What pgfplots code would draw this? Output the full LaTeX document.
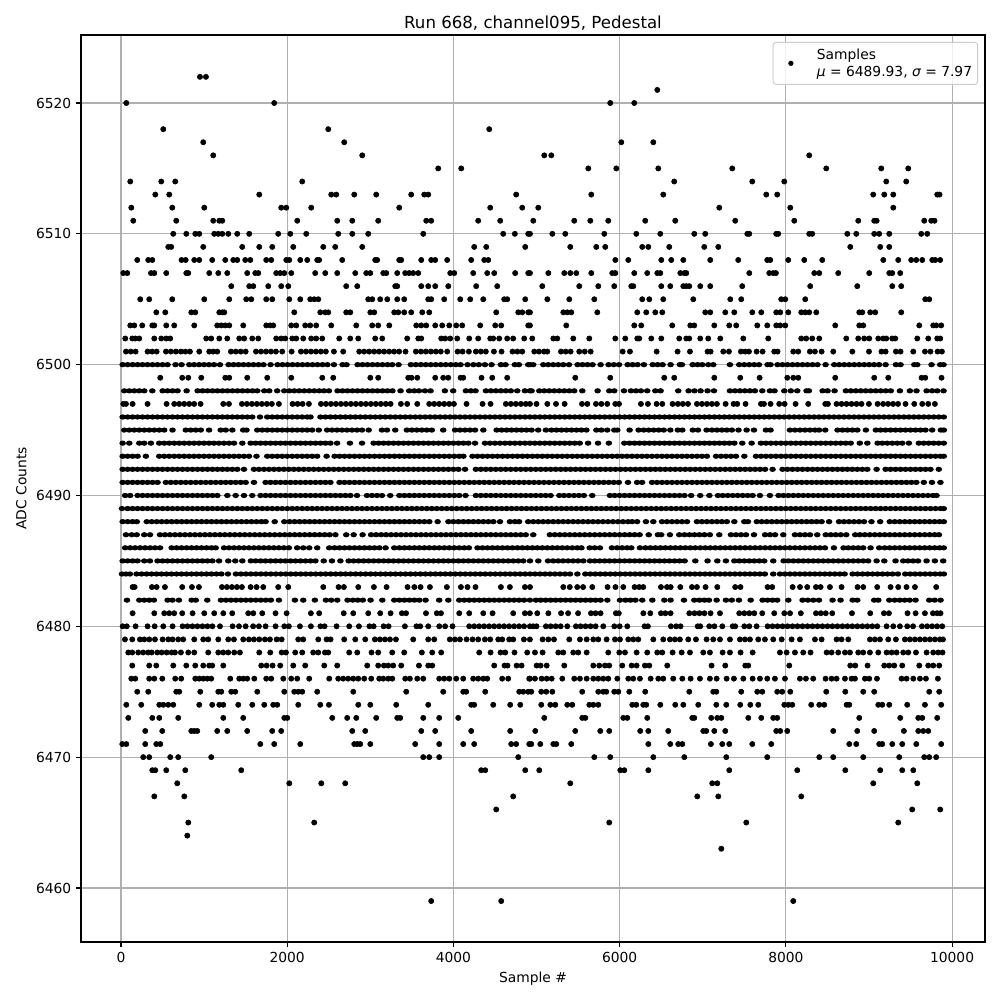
\documentclass[border=0pt]{standalone}
\usepackage{pgfplots}
\pgfplotsset{compat=1.18}
\usepackage{fontspec}
\setmainfont{DejaVu Sans}
\pgfdeclareplotmark{rowdot}{\pgfpathellipse{\pgfpointorigin}{\pgfqpoint{2.4pt}{0pt}}{\pgfqpoint{0pt}{1.9pt}}\pgfusepathqfill}
\newcommand\R[2]{\addplot[only marks,mark=*,mark size=1.9pt,color=black,mark options={draw=none,fill=black},forget plot] table[header=false,x index=0,y expr=#1,row sep=\\]{#2};}
\newcommand\D[2]{\addplot[only marks,mark=rowdot,color=black,forget plot] table[header=false,x index=0,y expr=#1,row sep=\\]{#2};}
\begin{document}
\begin{tikzpicture}
\useasboundingbox (0,0) rectangle (10in,10in);
\begin{axis}[at={(0.81in,0.58in)},anchor=south west,scale only axis,width=9.04in,height=9.07in,
xmin=-481,xmax=10396,ymin=6455.87,ymax=6525.2,
xtick={0,2000,4000,6000,8000,10000},ytick={6460,6470,6480,6490,6500,6510,6520},
scaled ticks=false,
/pgf/number format/assume math mode=true,/pgf/number format/1000 sep={},
xtick pos=lower,ytick pos=left,tick align=outside,major tick length=3.5bp,
every tick/.style={black,line width=0.8bp},axis line style={line width=0.8bp},
grid=major,grid style={color=black!31,line width=0.8bp},
title={\fontsize{12}{14}\selectfont Run 668, channel095, Pedestal},
title style={at={(0.5,1)},anchor=south,yshift=-6.4pt},
xlabel={Sample \#},ylabel={ADC Counts},
legend cell align=left,
legend style={at={(1,1)},anchor=north east,xshift=-5pt,yshift=-5pt,draw=black!20,line width=0.7pt,rounded corners=2pt,fill=white,fill opacity=0.8,text opacity=1,inner sep=2pt},
]
\addlegendimage{legend image code/.code={\path[draw=none,fill=none] (0,-1pt) rectangle (27.6pt,1pt);\fill[black,fill opacity=1,draw=none] (10.8pt,0) circle (1.9pt);}}
\addlegendentry{\begin{tabular}{@{}l@{}}Samples\\{\itshape μ} = 6489.93, {\itshape σ} = 7.97\\[-4pt]\rule{0pt}{13pt}\end{tabular}}
\R{6522}{950\\1022\\}
\R{6521}{6453\\}
\R{6520}{64\\1844\\5887\\6176\\}
\R{6518}{509\\2494\\4431\\}
\R{6517}{990\\2686\\6020\\6405\\}
\R{6516}{1110\\2903\\5093\\5178\\8281\\}
\R{6515}{3817\\4094\\5623\\5960\\6465\\7355\\8486\\9148\\9472\\}
\R{6514}{112\\485\\653\\2181\\6657\\7596\\7981\\9208\\9448\\}
\R{6513}{413\\581\\1664\\2530\\2590\\2807\\3071\\3492\\3649\\3697\\4755\\5659\\6525\\7764\\7896\\9051\\9184\\9292\\9821\\9849\\}
\R{6512}{124\\617\\1002\\1928\\1989\\2289\\3348\\4443\\4828\\5021\\7199\\8053\\9292\\}
\R{6511}{148\\665\\1110\\1183\\1219\\2121\\2602\\2783\\3095\\3673\\3733\\4298\\4563\\4961\\5454\\5647\\5863\\6308\\6669\\7391\\8101\\8871\\9063\\9092\\9665\\9749\\9789\\}
\R{6510}{629\\786\\894\\942\\1122\\1171\\1219\\1291\\1399\\1543\\1892\\2037\\2229\\2614\\2783\\2975\\3637\\4599\\4739\\4900\\4921\\5190\\5346\\5815\\6200\\6489\\6898\\7030\\7536\\7560\\7884\\7908\\8281\\8317\\8739\\8847\\9063\\9123\\9244\\9629\\9701\\}
\R{6509}{569\\605\\990\\1459\\1664\\1820\\2073\\2434\\2578\\2903\\4250\\4395\\4864\\5406\\5719\\5827\\6272\\6345\\6597\\7018\\7187\\8775\\9135\\9244\\}
\R{6508}{196\\328\\377\\729\\778\\882\\942\\1098\\1255\\1351\\1399\\1495\\1556\\1748\\1808\\1989\\2025\\2157\\2241\\2361\\2385\\2662\\3059\\3083\\3348\\3372\\3613\\3733\\3781\\3925\\4214\\4371\\4419\\5948\\6104\\6501\\6621\\6766\\7090\\7427\\7776\\7812\\8029\\8221\\8438\\9172\\9352\\9508\\9569\\9641\\9761\\9797\\9857\\}
\R{6507}{28\\76\\361\\401\\545\\786\\810\\1062\\1171\\1279\\1519\\1616\\1652\\1868\\1916\\1965\\2049\\2337\\2458\\2602\\2819\\2951\\3000\\3156\\3192\\3324\\3420\\3468\\3516\\3577\\3962\\4010\\4238\\4407\\4491\\4743\\4900\\4921\\5142\\5334\\5406\\5478\\5659\\5911\\5948\\6176\\6332\\6453\\6489\\6730\\6778\\6802\\7560\\7800\\7848\\7880\\8342\\8402\\8630\\9003\\9244\\9280\\9376\\}
\R{6506}{1327\\1543\\1592\\1772\\1928\\2013\\2710\\2843\\3300\\3324\\3613\\3697\\3781\\3938\\4274\\4527\\5069\\5514\\5743\\5935\\6140\\6164\\6501\\6609\\6766\\6802\\6838\\6970\\7090\\7475\\8293\\8859\\9280\\9388\\}
\R{6505}{232\\340\\617\\1002\\1303\\1507\\1568\\1748\\1820\\2025\\2157\\2277\\2325\\2374\\2975\\3023\\3119\\3204\\3324\\3408\\3697\\3733\\3889\\4082\\4202\\4359\\4611\\4647\\4864\\5130\\5394\\5695\\6272\\6357\\6525\\6886\\7331\\7463\\7944\\7993\\8233\\9677\\9725\\}
\R{6504}{425\\533\\846\\894\\1183\\1219\\1243\\2085\\2398\\2458\\2494\\2710\\2759\\3000\\3047\\3288\\3336\\3408\\3492\\3625\\3709\\4515\\4780\\4828\\4900\\4921\\5322\\5370\\5418\\5731\\6212\\6320\\6429\\6513\\7030\\7090\\7271\\7379\\7596\\7704\\7884\\7932\\8029\\8185\\8233\\8281\\8366\\8883\\8919\\9015\\9075\\9388\\}
\R{6503}{112\\160\\256\\377\\401\\545\\641\\882\\1158\\1207\\1255\\1303\\1471\\1748\\1796\\1832\\2049\\2109\\2217\\2277\\2349\\2530\\2831\\3023\\3095\\3228\\3553\\3613\\3673\\3781\\3865\\3950\\4034\\4106\\4322\\4503\\4575\\4900\\4921\\5358\\6176\\6260\\6633\\6850\\6898\\7139\\7319\\7403\\7656\\7776\\7884\\7932\\7993\\8594\\8883\\8931\\9605\\9773\\9809\\9869\\}
\R{6502}{52\\136\\172\\220\\401\\485\\545\\593\\1026\\1086\\1183\\1279\\1423\\1483\\1580\\1652\\1868\\1928\\1977\\2061\\2109\\2193\\2289\\2349\\2422\\2626\\2759\\2855\\3059\\3144\\3444\\3577\\3613\\3853\\3901\\3962\\4046\\4190\\4298\\4443\\4479\\4551\\4647\\4719\\4852\\4949\\5202\\5250\\5442\\5635\\5948\\6068\\6212\\6236\\6381\\6501\\6717\\6802\\6838\\6970\\7066\\7211\\7488\\7788\\8185\\8245\\8317\\8402\\8727\\8871\\8943\\9003\\9112\\9172\\9208\\9280\\9316\\9581\\9713\\9821\\9857\\}
\R{6501}{60\\118\\176\\320\\375\\429\\541\\600\\660\\720\\775\\830\\942\\1062\\1110\\1158\\1323\\1380\\1440\\1500\\1624\\1684\\1744\\1804\\1864\\1940\\2053\\2165\\2225\\2285\\2345\\2405\\2465\\2562\\2674\\2867\\2927\\2987\\3047\\3107\\3167\\3227\\3287\\3347\\3424\\3548\\3608\\3668\\3728\\3788\\3848\\3925\\4050\\4110\\4186\\4270\\4330\\4390\\4487\\4579\\4711\\4770\\4828\\4973\\5030\\5090\\5130\\5294\\5350\\5410\\5514\\5580\\5651\\6036\\6124\\6445\\6697\\6846\\7058\\7094\\7247\\7315\\7459\\7510\\7556\\7648\\7720\\7860\\7900\\8089\\8149\\8289\\8349\\8430\\8570\\8800\\9000\\9150\\9200\\9324\\9380\\9533\\9673\\9740\\9825\\9877\\}
\D{6500}{20\\80\\140\\200\\260\\320\\380\\440\\500\\560\\657\\729\\822\\880\\940\\1000\\1060\\1120\\1191\\1295\\1355\\1415\\1475\\1535\\1595\\1655\\1715\\1800\\1884\\1944\\2004\\2064\\2124\\2184\\2244\\2304\\2364\\2424\\2484\\2562\\2666\\2714\\2847\\2907\\2967\\3027\\3087\\3147\\3207\\3264\\3340\\3488\\3548\\3608\\3668\\3728\\3788\\3848\\3908\\3968\\4028\\4086\\4170\\4240\\4306\\4379\\4459\\4571\\4627\\4739\\4788\\4900\\4921\\4960\\5081\\5141\\5201\\5261\\5321\\5390\\5494\\5554\\5614\\5674\\5771\\5867\\5930\\5992\\6096\\6156\\6216\\6292\\6397\\6457\\6517\\6613\\6725\\6750\\6878\\6938\\6994\\7066\\7127\\7327\\7439\\7499\\7559\\7619\\7676\\7780\\7816\\7900\\7960\\8020\\8080\\8140\\8200\\8260\\8320\\8380\\8478\\8582\\8642\\8702\\8762\\8822\\8882\\8942\\9002\\9062\\9122\\9200\\9324\\9380\\9545\\9581\\9753\\9857\\9897\\}
\R{6499}{473\\737\\810\\966\\1255\\1303\\1519\\1760\\2049\\2422\\2554\\3000\\3095\\3456\\3496\\3565\\3781\\3877\\3937\\4086\\4118\\4338\\4467\\4647\\5466\\5887\\6537\\6657\\7139\\7451\\7684\\8017\\8089\\8149\\8594\\9063\\9232\\9633\\9677\\9873\\}
\D{6498}{40\\100\\160\\220\\280\\377\\501\\561\\621\\681\\790\\922\\982\\1042\\1102\\1162\\1222\\1282\\1342\\1402\\1462\\1522\\1582\\1640\\1724\\1784\\1880\\1965\\2025\\2085\\2145\\2205\\2265\\2325\\2385\\2442\\2502\\2606\\2666\\2726\\2786\\2846\\2906\\2966\\3026\\3086\\3146\\3206\\3266\\3364\\3468\\3528\\3585\\3657\\3725\\3897\\3997\\4150\\4210\\4266\\4391\\4451\\4511\\4571\\4631\\4691\\4768\\4860\\4920\\4940\\5033\\5093\\5153\\5213\\5273\\5333\\5393\\5453\\5551\\5735\\5875\\5935\\6052\\6136\\6196\\6256\\6332\\6429\\6493\\6705\\6830\\6900\\6974\\7058\\7135\\7327\\7387\\7447\\7507\\7567\\7627\\7716\\7808\\7864\\7981\\8060\\8137\\8249\\8277\\8442\\8502\\8586\\8722\\8782\\8842\\8902\\8962\\9022\\9082\\9142\\9202\\9262\\9372\\9492\\9572\\9693\\9760\\9821\\9897\\}
\R{6497}{28\\60\\140\\320\\549\\641\\701\\761\\821\\881\\958\\1231\\1299\\1455\\1515\\1575\\1635\\1695\\1755\\1815\\1900\\2065\\2125\\2185\\2261\\2406\\2466\\2526\\2586\\2646\\2706\\2766\\2826\\2886\\2946\\3006\\3066\\3126\\3186\\3244\\3368\\3444\\3565\\3709\\3769\\3829\\3889\\3949\\4006\\4158\\4351\\4447\\4631\\4691\\4751\\4811\\4871\\4921\\5000\\5130\\5234\\5338\\5547\\5611\\5715\\5780\\5851\\5948\\5992\\6256\\6340\\6445\\6513\\6637\\6700\\6760\\6822\\6930\\6990\\7050\\7110\\7170\\7275\\7371\\7415\\7515\\7700\\7736\\7816\\7920\\7985\\8117\\8269\\8474\\8506\\8610\\8670\\8730\\8790\\8850\\8910\\8999\\9104\\9170\\9230\\9290\\9350\\9440\\9545\\9641\\9713\\9793\\}
\D{6496}{20\\80\\140\\200\\260\\320\\380\\440\\500\\560\\620\\680\\740\\800\\860\\920\\980\\1040\\1100\\1160\\1220\\1280\\1340\\1400\\1460\\1520\\1580\\1672\\1760\\1820\\1880\\1940\\2000\\2060\\2120\\2180\\2240\\2280\\2400\\2460\\2520\\2580\\2640\\2700\\2760\\2820\\2880\\2940\\3000\\3060\\3120\\3180\\3240\\3300\\3360\\3420\\3480\\3540\\3600\\3660\\3720\\3780\\3840\\3900\\3960\\4020\\4080\\4140\\4200\\4260\\4320\\4380\\4440\\4500\\4560\\4620\\4680\\4740\\4800\\4860\\4920\\4980\\5040\\5100\\5160\\5220\\5280\\5340\\5400\\5460\\5520\\5580\\5640\\5700\\5760\\5820\\5880\\5940\\6000\\6060\\6120\\6180\\6240\\6300\\6360\\6420\\6480\\6540\\6600\\6660\\6720\\6780\\6840\\6900\\6960\\7020\\7080\\7140\\7200\\7260\\7320\\7380\\7440\\7500\\7560\\7620\\7680\\7740\\7800\\7860\\7920\\7980\\8040\\8100\\8160\\8220\\8280\\8340\\8400\\8460\\8520\\8580\\8640\\8700\\8760\\8820\\8880\\8940\\9000\\9060\\9120\\9180\\9240\\9300\\9360\\9420\\9480\\9540\\9600\\9660\\9720\\9780\\9840\\9900\\}
\D{6495}{40\\100\\160\\220\\280\\340\\400\\460\\520\\620\\780\\840\\900\\960\\1060\\1200\\1260\\1340\\1470\\1510\\1640\\1700\\1760\\1820\\1880\\1940\\2000\\2060\\2120\\2180\\2240\\2300\\2380\\2480\\2540\\2600\\2660\\2720\\2780\\2840\\2900\\2980\\3140\\3200\\3300\\3440\\3500\\3560\\3620\\3680\\3740\\3877\\4020\\4080\\4140\\4200\\4260\\4360\\4520\\4580\\4640\\4700\\4760\\4820\\4880\\4940\\5020\\5113\\5180\\5240\\5300\\5360\\5420\\5480\\5540\\5600\\5720\\5780\\5850\\5936\\5972\\6120\\6228\\6290\\6350\\6410\\6470\\6530\\6610\\6700\\6754\\6880\\6942\\7046\\7110\\7170\\7230\\7290\\7350\\7430\\7528\\7616\\7760\\7816\\8049\\8110\\8170\\8230\\8290\\8350\\8400\\8474\\8622\\8680\\8740\\8800\\8860\\8963\\9083\\9140\\9200\\9260\\9320\\9380\\9440\\9500\\9560\\9620\\9680\\9760\\9865\\9901\\}
\D{6494}{20\\100\\220\\280\\360\\460\\520\\580\\640\\700\\760\\820\\880\\940\\1000\\1060\\1120\\1180\\1240\\1300\\1360\\1460\\1560\\1620\\1680\\1740\\1800\\1860\\1920\\1980\\2040\\2100\\2160\\2220\\2280\\2340\\2400\\2460\\2520\\2600\\2755\\2900\\3040\\3100\\3160\\3220\\3280\\3340\\3400\\3460\\3520\\3580\\3640\\3700\\3760\\3820\\3880\\3940\\4000\\4060\\4120\\4180\\4260\\4380\\4440\\4500\\4560\\4620\\4680\\4740\\4800\\4860\\4920\\4980\\5040\\5100\\5160\\5220\\5280\\5340\\5400\\5460\\5520\\5620\\5740\\5870\\6056\\6120\\6180\\6240\\6300\\6360\\6420\\6480\\6540\\6600\\6660\\6720\\6780\\6840\\6900\\6960\\7020\\7080\\7140\\7200\\7260\\7320\\7380\\7475\\7588\\7700\\7760\\7820\\7880\\7940\\8000\\8060\\8120\\8180\\8240\\8300\\8360\\8420\\8480\\8540\\8600\\8660\\8720\\8780\\8890\\8980\\9104\\9160\\9220\\9280\\9340\\9400\\9480\\9600\\9660\\9720\\9780\\9840\\9900\\}
\D{6493}{20\\80\\140\\200\\300\\460\\520\\580\\640\\700\\760\\820\\880\\940\\1000\\1060\\1120\\1180\\1240\\1300\\1360\\1420\\1480\\1540\\1630\\1760\\1820\\1880\\1940\\2000\\2060\\2120\\2180\\2240\\2300\\2360\\2474\\2570\\2630\\2690\\2750\\2810\\2870\\2930\\2990\\3050\\3110\\3170\\3230\\3290\\3350\\3410\\3470\\3530\\3590\\3650\\3710\\3770\\3830\\3890\\3950\\4010\\4070\\4120\\4230\\4290\\4350\\4410\\4470\\4530\\4590\\4650\\4710\\4770\\4830\\4890\\4950\\5010\\5070\\5130\\5190\\5250\\5310\\5370\\5430\\5490\\5550\\5610\\5670\\5730\\5790\\5850\\5910\\5970\\6030\\6090\\6150\\6210\\6270\\6330\\6390\\6450\\6510\\6570\\6630\\6690\\6750\\6810\\6870\\6930\\6990\\7050\\7160\\7220\\7280\\7340\\7400\\7500\\7640\\7700\\7760\\7820\\7880\\7940\\8000\\8060\\8120\\8180\\8240\\8300\\8360\\8420\\8480\\8540\\8600\\8660\\8720\\8780\\8840\\8900\\8960\\9020\\9080\\9140\\9200\\9260\\9320\\9380\\9440\\9500\\9560\\9620\\9680\\9740\\9800\\9860\\9900\\}
\D{6492}{20\\80\\140\\200\\260\\320\\380\\440\\500\\560\\620\\680\\740\\800\\860\\920\\980\\1040\\1100\\1160\\1220\\1280\\1340\\1400\\1480\\1600\\1660\\1720\\1780\\1840\\1900\\1960\\2020\\2080\\2140\\2200\\2260\\2320\\2380\\2440\\2500\\2560\\2620\\2680\\2740\\2800\\2860\\2920\\2980\\3040\\3100\\3160\\3220\\3280\\3340\\3400\\3460\\3520\\3580\\3640\\3700\\3760\\3820\\3880\\3940\\4000\\4060\\4140\\4270\\4330\\4390\\4450\\4510\\4570\\4630\\4690\\4750\\4810\\4870\\4930\\4990\\5050\\5110\\5170\\5230\\5290\\5350\\5410\\5470\\5530\\5590\\5650\\5710\\5770\\5830\\5890\\5950\\6010\\6070\\6130\\6190\\6250\\6310\\6370\\6430\\6490\\6550\\6610\\6670\\6730\\6790\\6850\\6910\\6970\\7030\\7090\\7150\\7210\\7270\\7330\\7390\\7450\\7510\\7570\\7630\\7690\\7750\\7840\\7960\\8020\\8080\\8140\\8200\\8260\\8320\\8380\\8440\\8500\\8560\\8620\\8680\\8740\\8800\\8860\\8920\\8980\\9092\\9200\\9260\\9320\\9380\\9440\\9500\\9560\\9620\\9680\\9740\\9840\\}
\D{6491}{20\\80\\140\\200\\260\\320\\380\\440\\540\\600\\660\\720\\780\\840\\900\\960\\1020\\1080\\1140\\1200\\1260\\1320\\1380\\1440\\1500\\1600\\1740\\1800\\1860\\1920\\1980\\2040\\2100\\2160\\2220\\2280\\2340\\2400\\2460\\2520\\2630\\2690\\2750\\2810\\2870\\2930\\2990\\3050\\3110\\3170\\3230\\3290\\3350\\3410\\3470\\3530\\3590\\3650\\3710\\3770\\3830\\3890\\3950\\4010\\4070\\4130\\4190\\4250\\4310\\4370\\4430\\4490\\4550\\4610\\4670\\4730\\4790\\4850\\4910\\4970\\5030\\5090\\5150\\5210\\5270\\5330\\5390\\5450\\5510\\5570\\5630\\5690\\5750\\5810\\5870\\5930\\5990\\6100\\6210\\6270\\6390\\6450\\6510\\6570\\6630\\6690\\6750\\6810\\6870\\6930\\6990\\7050\\7110\\7170\\7230\\7290\\7350\\7410\\7470\\7530\\7590\\7650\\7710\\7770\\7830\\7890\\7950\\8010\\8070\\8130\\8190\\8250\\8310\\8370\\8430\\8490\\8550\\8610\\8670\\8730\\8790\\8850\\8910\\8970\\9030\\9090\\9150\\9210\\9270\\9330\\9390\\9450\\9510\\9570\\9660\\9757\\9860\\}
\D{6490}{50\\110\\200\\260\\320\\380\\440\\500\\560\\620\\680\\740\\800\\860\\920\\980\\1040\\1100\\1160\\1280\\1380\\1480\\1580\\1680\\1740\\1800\\1860\\1920\\1980\\2040\\2100\\2160\\2220\\2280\\2340\\2400\\2460\\2520\\2580\\2640\\2700\\2760\\2840\\2960\\3020\\3080\\3140\\3240\\3350\\3410\\3470\\3530\\3590\\3650\\3710\\3770\\3830\\3890\\3950\\4010\\4070\\4146\\4270\\4330\\4390\\4450\\4510\\4570\\4630\\4690\\4750\\4810\\4870\\4930\\4990\\5050\\5110\\5170\\5274\\5330\\5390\\5450\\5510\\5570\\5670\\5883\\5940\\6000\\6060\\6120\\6180\\6240\\6300\\6360\\6420\\6480\\6540\\6600\\6660\\6720\\6780\\6860\\6970\\7080\\7183\\7240\\7300\\7360\\7420\\7480\\7540\\7600\\7688\\7808\\7912\\7970\\8030\\8090\\8150\\8210\\8270\\8330\\8390\\8450\\8510\\8570\\8630\\8690\\8750\\8810\\8870\\8930\\8990\\9050\\9110\\9170\\9230\\9290\\9350\\9410\\9470\\9530\\9590\\9650\\9710\\9770\\9813\\}
\D{6489}{12\\80\\140\\200\\260\\320\\380\\440\\500\\560\\620\\680\\740\\800\\860\\920\\980\\1040\\1100\\1160\\1220\\1280\\1340\\1400\\1460\\1520\\1580\\1640\\1700\\1760\\1820\\1880\\1940\\2000\\2060\\2120\\2180\\2240\\2300\\2360\\2420\\2480\\2540\\2600\\2660\\2720\\2780\\2840\\2900\\2960\\3020\\3080\\3140\\3200\\3260\\3320\\3380\\3440\\3500\\3560\\3620\\3680\\3740\\3800\\3860\\3920\\3980\\4040\\4100\\4160\\4220\\4280\\4340\\4400\\4460\\4520\\4580\\4640\\4700\\4760\\4820\\4880\\4940\\5000\\5060\\5120\\5180\\5240\\5300\\5360\\5420\\5480\\5540\\5600\\5660\\5720\\5780\\5840\\5900\\5960\\6020\\6080\\6140\\6200\\6260\\6320\\6380\\6440\\6500\\6560\\6620\\6680\\6740\\6800\\6860\\6920\\6980\\7040\\7100\\7160\\7220\\7280\\7340\\7400\\7460\\7520\\7580\\7640\\7700\\7760\\7820\\7880\\7940\\8000\\8060\\8120\\8180\\8240\\8300\\8360\\8420\\8480\\8540\\8600\\8660\\8720\\8780\\8840\\8900\\8960\\9020\\9080\\9140\\9200\\9260\\9320\\9380\\9440\\9500\\9560\\9620\\9680\\9740\\9800\\9860\\9900\\}
\D{6488}{20\\80\\140\\190\\310\\370\\430\\490\\550\\610\\670\\730\\790\\850\\910\\970\\1030\\1090\\1150\\1210\\1270\\1330\\1390\\1450\\1510\\1570\\1630\\1690\\1740\\1850\\1965\\2030\\2090\\2150\\2210\\2270\\2330\\2390\\2450\\2510\\2570\\2630\\2690\\2750\\2810\\2870\\2930\\2990\\3050\\3110\\3170\\3230\\3290\\3350\\3410\\3470\\3530\\3590\\3650\\3710\\3810\\3940\\4000\\4060\\4120\\4180\\4240\\4300\\4360\\4420\\4480\\4560\\4680\\4740\\4790\\4900\\4960\\5020\\5080\\5140\\5200\\5260\\5320\\5380\\5440\\5500\\5560\\5620\\5680\\5740\\5800\\5860\\5920\\5980\\6040\\6100\\6150\\6210\\6316\\6405\\6510\\6570\\6630\\6690\\6750\\6810\\6930\\6990\\7050\\7110\\7170\\7230\\7290\\7380\\7500\\7544\\7650\\7710\\7770\\7830\\7890\\7950\\8010\\8070\\8130\\8190\\8250\\8310\\8370\\8430\\8520\\8640\\8700\\8760\\8820\\8880\\8940\\9030\\9135\\9250\\9310\\9370\\9430\\9490\\9550\\9610\\9670\\9730\\9790\\9850\\9900\\}
\D{6487}{60\\130\\190\\280\\350\\470\\530\\590\\650\\710\\770\\830\\890\\950\\1010\\1070\\1130\\1190\\1250\\1310\\1370\\1430\\1490\\1550\\1610\\1670\\1730\\1790\\1850\\1910\\1970\\2030\\2090\\2150\\2210\\2270\\2330\\2390\\2450\\2510\\2580\\2710\\2800\\2907\\3010\\3070\\3130\\3190\\3250\\3310\\3370\\3430\\3490\\3550\\3610\\3670\\3730\\3790\\3850\\3910\\3970\\4030\\4090\\4150\\4210\\4270\\4330\\4390\\4450\\4510\\4570\\4630\\4690\\4750\\4810\\4870\\4960\\5160\\5220\\5280\\5340\\5400\\5460\\5520\\5580\\5640\\5700\\5760\\5820\\5880\\5940\\6000\\6060\\6120\\6180\\6240\\6350\\6460\\6500\\6605\\6717\\6780\\6840\\6900\\6960\\7020\\7086\\7199\\7340\\7400\\7460\\7520\\7616\\7750\\7810\\7870\\7969\\8110\\8170\\8230\\8290\\8378\\8480\\8540\\8600\\8660\\8726\\8835\\8890\\8950\\9010\\9070\\9130\\9190\\9250\\9310\\9370\\9430\\9490\\9550\\9610\\9670\\9730\\9790\\9841\\}
\D{6486}{50\\110\\170\\230\\290\\350\\410\\470\\610\\670\\730\\790\\850\\910\\970\\1030\\1090\\1140\\1240\\1300\\1360\\1420\\1480\\1540\\1600\\1660\\1720\\1780\\1840\\1900\\1960\\2020\\2120\\2193\\2265\\2361\\2506\\2570\\2630\\2690\\2750\\2810\\2870\\2930\\2990\\3050\\3110\\3184\\3288\\3350\\3410\\3470\\3530\\3590\\3650\\3710\\3770\\3830\\3890\\3950\\4010\\4070\\4130\\4186\\4290\\4350\\4410\\4470\\4530\\4590\\4650\\4710\\4770\\4830\\4890\\4950\\5010\\5070\\5130\\5190\\5250\\5310\\5370\\5430\\5490\\5540\\5640\\5700\\5763\\5907\\5970\\6030\\6090\\6140\\6244\\6310\\6370\\6430\\6490\\6550\\6610\\6670\\6730\\6790\\6850\\6910\\6970\\7030\\7090\\7150\\7210\\7270\\7330\\7390\\7450\\7510\\7570\\7630\\7690\\7750\\7810\\7870\\7930\\7990\\8050\\8110\\8170\\8230\\8290\\8350\\8410\\8470\\8578\\8694\\8750\\8810\\8870\\8930\\9019\\9123\\9190\\9250\\9310\\9370\\9430\\9490\\9550\\9610\\9670\\9730\\9790\\9850\\9900\\}
\D{6485}{20\\80\\140\\200\\280\\348\\440\\500\\560\\620\\680\\740\\800\\860\\920\\980\\1040\\1100\\1180\\1291\\1375\\1460\\1563\\1620\\1680\\1740\\1800\\1860\\1920\\1980\\2040\\2100\\2160\\2220\\2280\\2340\\2440\\2538\\2640\\2740\\2800\\2860\\2920\\2980\\3040\\3100\\3160\\3220\\3280\\3340\\3400\\3460\\3520\\3580\\3640\\3700\\3760\\3820\\3880\\3940\\4000\\4060\\4120\\4180\\4240\\4300\\4360\\4420\\4480\\4540\\4600\\4660\\4720\\4780\\4840\\4921\\5021\\5138\\5200\\5260\\5320\\5380\\5440\\5500\\5563\\5643\\5700\\5760\\5820\\5880\\5940\\6000\\6060\\6120\\6180\\6240\\6300\\6360\\6420\\6480\\6540\\6600\\6660\\6720\\6782\\6910\\7058\\7175\\7279\\7380\\7440\\7500\\7560\\7620\\7680\\7740\\7848\\7973\\8030\\8090\\8150\\8210\\8270\\8330\\8390\\8450\\8510\\8570\\8630\\8690\\8750\\8810\\8870\\8930\\8990\\9092\\9184\\9320\\9412\\9470\\9530\\9590\\9693\\9793\\9893\\}
\D{6484}{12\\60\\108\\188\\248\\308\\368\\428\\488\\548\\608\\668\\728\\788\\848\\908\\968\\1028\\1088\\1148\\1208\\1287\\1383\\1443\\1503\\1563\\1623\\1683\\1743\\1803\\1863\\1923\\1983\\2043\\2103\\2163\\2223\\2283\\2343\\2403\\2463\\2523\\2583\\2643\\2703\\2763\\2823\\2883\\2943\\3003\\3063\\3123\\3183\\3243\\3303\\3363\\3423\\3483\\3543\\3603\\3663\\3723\\3783\\3843\\3903\\3963\\4023\\4083\\4143\\4203\\4263\\4323\\4383\\4443\\4503\\4563\\4623\\4683\\4743\\4803\\4863\\4923\\4983\\5043\\5103\\5163\\5223\\5283\\5343\\5403\\5491\\5587\\5647\\5707\\5767\\5827\\5887\\5947\\6007\\6067\\6127\\6187\\6247\\6307\\6367\\6427\\6487\\6547\\6607\\6667\\6727\\6787\\6847\\6907\\6967\\7027\\7087\\7147\\7207\\7267\\7327\\7387\\7447\\7507\\7567\\7627\\7687\\7747\\7848\\7929\\7989\\8049\\8109\\8169\\8229\\8289\\8349\\8409\\8469\\8529\\8589\\8649\\8707\\8803\\8863\\8923\\8983\\9043\\9103\\9163\\9223\\9283\\9348\\9436\\9496\\9556\\9616\\9676\\9736\\9796\\9856\\9901\\}
\R{6483}{140\\164\\372\\429\\529\\737\\854\\938\\1215\\1275\\1335\\1395\\1455\\1560\\1632\\1712\\1892\\2013\\2434\\2618\\2682\\2855\\3043\\3196\\3448\\3530\\3605\\3717\\3921\\4090\\4170\\4266\\4571\\4679\\4860\\4921\\5322\\5400\\5490\\5560\\5671\\5855\\5950\\6044\\6180\\6235\\6284\\6497\\6570\\6614\\6730\\6870\\6930\\7034\\7175\\7390\\7454\\7780\\7836\\8081\\8170\\8257\\8362\\8418\\8530\\8670\\8863\\8931\\9099\\9260\\9352\\9452\\9553\\9809\\}
\D{6482}{72\\220\\280\\340\\396\\561\\620\\697\\850\\900\\1038\\1203\\1263\\1323\\1383\\1443\\1503\\1563\\1623\\1683\\1743\\1803\\1900\\2093\\2193\\2333\\2466\\2530\\2602\\2726\\2790\\2850\\2910\\3003\\3144\\3288\\3350\\3410\\3470\\3530\\3590\\3665\\3829\\3938\\4070\\4130\\4190\\4250\\4310\\4370\\4430\\4490\\4550\\4610\\4670\\4730\\4790\\4850\\4920\\4993\\5050\\5110\\5170\\5230\\5290\\5350\\5410\\5470\\5530\\5590\\5650\\5710\\5770\\5851\\6004\\6070\\6130\\6190\\6272\\6393\\6537\\6613\\6774\\6898\\6960\\7020\\7074\\7167\\7279\\7350\\7435\\7577\\7720\\7780\\7840\\7896\\8029\\8201\\8265\\8330\\8398\\8562\\8658\\8803\\8859\\9063\\9112\\9244\\9310\\9370\\9430\\9490\\9561\\9725\\9790\\9861\\}
\R{6481}{140\\401\\521\\580\\640\\737\\862\\1002\\1122\\1231\\1339\\1531\\1592\\1700\\1860\\1993\\2285\\2385\\2680\\2795\\2975\\3119\\3244\\3380\\3430\\3670\\3800\\3850\\4070\\4190\\4359\\4471\\4719\\4860\\4920\\5009\\5142\\5295\\5380\\5500\\5655\\5710\\5771\\5955\\5990\\6285\\6369\\6497\\6550\\6613\\6838\\6900\\6960\\7020\\7094\\7207\\7439\\7500\\7560\\7620\\7716\\7860\\7981\\8050\\8180\\8362\\8420\\8480\\8558\\8795\\9015\\9180\\9240\\9464\\9561\\9673\\9770\\9820\\9861\\}
\R{6480}{20\\70\\176\\320\\405\\509\\621\\741\\800\\860\\920\\980\\1040\\1100\\1191\\1343\\1420\\1500\\1590\\1660\\1740\\1860\\1965\\2020\\2153\\2285\\2400\\2450\\2594\\2746\\2863\\2990\\3040\\3160\\3220\\3416\\3555\\3600\\3697\\3830\\3900\\3989\\4190\\4250\\4310\\4370\\4430\\4490\\4550\\4610\\4670\\4730\\4790\\4850\\4920\\4960\\5000\\5113\\5170\\5230\\5290\\5370\\5474\\5530\\5590\\5650\\5711\\5803\\5936\\6000\\6092\\6300\\6340\\6617\\6680\\6733\\6940\\6970\\7078\\7140\\7235\\7360\\7390\\7500\\7560\\7648\\7780\\7840\\7900\\7960\\8020\\8080\\8140\\8200\\8260\\8320\\8380\\8440\\8500\\8560\\8620\\8680\\8740\\8800\\8860\\8920\\8980\\9040\\9099\\9212\\9292\\9372\\9460\\9530\\9637\\9700\\9760\\9820\\9881\\}
\R{6479}{48\\136\\228\\280\\340\\409\\501\\569\\621\\689\\749\\882\\990\\1050\\1171\\1291\\1359\\1471\\1540\\1600\\1664\\1732\\1792\\1873\\1933\\2133\\2193\\2374\\2474\\2522\\2686\\2819\\2939\\3055\\3115\\3176\\3236\\3308\\3516\\3697\\3769\\3957\\4018\\4078\\4158\\4230\\4298\\4379\\4443\\4539\\4587\\4671\\4719\\4848\\4920\\5073\\5142\\5210\\5394\\5522\\5603\\5683\\5743\\5843\\5944\\6004\\6104\\6164\\6224\\6405\\6525\\6605\\6665\\6725\\6826\\6918\\7046\\7126\\7207\\7327\\7447\\7508\\7568\\7668\\7748\\7848\\7949\\8069\\8169\\8350\\8430\\8610\\8670\\8751\\9011\\9071\\9132\\9232\\9324\\9432\\9492\\9553\\9613\\9673\\9733\\9793\\9853\\9890\\}
\R{6478}{88\\136\\208\\268\\328\\369\\437\\489\\549\\609\\649\\721\\810\\882\\1050\\1171\\1231\\1291\\1363\\1431\\1664\\1796\\1933\\1985\\2097\\2181\\2313\\2374\\2454\\2494\\2746\\2843\\3015\\3095\\3264\\3408\\3620\\3745\\3853\\4310\\4447\\4567\\4623\\4735\\4888\\4981\\5073\\5262\\5322\\5442\\5502\\5603\\5863\\5996\\6064\\6204\\6332\\6453\\6513\\6637\\6746\\6846\\7006\\7086\\7239\\7327\\7455\\7600\\7928\\8009\\8109\\8209\\8297\\8490\\8550\\8630\\8711\\8771\\8871\\8931\\9011\\9112\\9212\\9272\\9332\\9412\\9473\\9565\\9693\\9773\\9833\\9885\\}
\R{6477}{136\\340\\425\\629\\786\\894\\990\\1062\\1098\\1231\\1688\\1752\\1824\\1916\\2073\\2217\\2446\\2602\\2963\\3095\\3164\\3216\\3276\\3372\\3585\\3697\\3745\\4491\\4615\\4651\\4760\\4820\\5001\\5049\\5122\\5334\\5683\\5755\\5823\\5875\\6032\\6144\\6204\\6304\\6357\\6573\\7106\\7271\\7512\\7548\\8041\\8775\\8835\\8983\\9184\\9244\\9304\\9400\\9605\\9713\\9773\\9845\\}
\R{6476}{124\\172\\340\\401\\497\\653\\725\\894\\942\\990\\1038\\1086\\1315\\1423\\1471\\1519\\1604\\1748\\1808\\1953\\2049\\2121\\2265\\2506\\2614\\2674\\2734\\2795\\2855\\2927\\3011\\3107\\3156\\3216\\3264\\3420\\3476\\3565\\3637\\3829\\3889\\3950\\4034\\4118\\4238\\4298\\4359\\4407\\4587\\4659\\4912\\4921\\4981\\5061\\5122\\5182\\5310\\5454\\5522\\5603\\5683\\5743\\5803\\5863\\5972\\6104\\6164\\6244\\6373\\6465\\6525\\6645\\6754\\6854\\6966\\7086\\7167\\7287\\7375\\7488\\7600\\7688\\7776\\7868\\7989\\8169\\8241\\8329\\8478\\8550\\8610\\8711\\8791\\8831\\8951\\9003\\9096\\9392\\9452\\9533\\9613\\9685\\9829\\}
\R{6475}{196\\328\\665\\701\\954\\1171\\1207\\1327\\1375\\1640\\1965\\2085\\2133\\2181\\2361\\2795\\3432\\3877\\4118\\4154\\4383\\4792\\4840\\4900\\4937\\5057\\5117\\5190\\5550\\5743\\5803\\5839\\5935\\5984\\6116\\6308\\6838\\7126\\7163\\7463\\7656\\7716\\7896\\7956\\8053\\8486\\8715\\8931\\9063\\9725\\9845\\}
\R{6474}{64\\244\\461\\509\\569\\629\\942\\1098\\1183\\1231\\1411\\1580\\1724\\1832\\1880\\2133\\2398\\2502\\2855\\3000\\3312\\3697\\4214\\4250\\4479\\4683\\4804\\5057\\5166\\5226\\5370\\5430\\5635\\5683\\5743\\6152\\6200\\6284\\6320\\6489\\6669\\6766\\6946\\7163\\7283\\7451\\7572\\7668\\7981\\8029\\8077\\8305\\8402\\8462\\8731\\8763\\9112\\9160\\9244\\9460\\9673\\9869\\}
\R{6473}{88\\377\\461\\689\\1231\\1471\\1965\\2001\\2542\\2722\\2831\\3071\\3324\\3360\\3637\\3829\\4058\\5093\\5550\\5587\\6044\\6092\\6332\\6874\\6898\\7102\\7175\\7223\\7548\\7704\\7848\\7896\\8883\\9376\\9593\\9641\\9821\\}
\R{6472}{292\\497\\846\\882\\918\\1158\\1279\\1519\\1820\\1928\\2783\\2939\\3613\\3781\\4214\\4683\\4985\\5466\\5767\\5875\\6248\\6345\\6585\\7006\\7042\\7139\\7271\\7884\\7932\\8017\\8570\\8859\\9063\\9420\\9593\\9653\\9713\\}
\R{6471}{16\\64\\292\\425\\473\\1676\\1844\\2157\\2807\\2843\\2879\\3000\\3540\\3829\\4118\\4250\\4695\\4755\\4912\\4937\\5045\\5202\\5238\\5418\\6345\\6609\\6705\\6754\\7098\\7235\\7319\\7596\\7824\\8763\\8847\\9123\\9160\\9280\\9400\\9569\\9869\\}
\R{6470}{268\\340\\593\\689\\1086\\3637\\3709\\3829\\4780\\5695\\5887\\6405\\6778\\7283\\7776\\8402\\8570\\8931\\9364\\9665\\9725\\9809\\}
\R{6469}{377\\413\\545\\774\\1447\\4334\\4383\\4864\\5033\\6008\\6056\\6345\\7319\\8137\\8715\\9135\\9400\\9533\\}
\R{6468}{677\\2025\\2410\\2698\\5406\\7114\\7175\\9051\\9581\\}
\R{6467}{401\\762\\4719\\6934\\7187\\8185\\}
\R{6466}{4515\\9520\\9857\\}
\R{6465}{810\\2325\\5875\\7524\\9352\\}
\R{6464}{798\\}
\R{6463}{7223\\}
\R{6459}{3733\\4575\\8089\\}
\end{axis}
\end{tikzpicture}
\end{document}
